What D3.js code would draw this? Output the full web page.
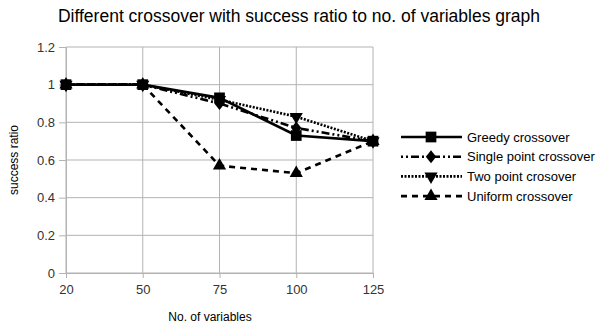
<!DOCTYPE html>
<html><head><meta charset="utf-8">
<script src="https://cdn.jsdelivr.net/npm/d3@7"></script>
<style>body{margin:0;background:#fff}text{font-family:"Liberation Sans",Arial,sans-serif}</style>
</head><body>
<svg id="c" width="603" height="326"></svg>
<script>
const categories = ["20","50","75","100","125"];
const greedy = [1, 1, 0.93, 0.73, 0.70];
const singlePoint = [1, 1, 0.90, 0.77, 0.70];
const twoPoint = [1, 1, 0.92, 0.83, 0.70];
const uniform = [1, 1, 0.57, 0.53, 0.70];
const seriesNames = ["Greedy crossover","Single point crossover","Two point crosover","Uniform crossover"];
const yTicks = [0,0.2,0.4,0.6,0.8,1,1.2];

const svg = d3.select("#c");
const L=66,R=373,T=47,B=273;
const x = d3.scalePoint().domain(categories).range([L,R]);
const y = d3.scaleLinear().domain([0,1.2]).range([B,T]);

svg.append("g").selectAll("line").data(yTicks).join("line")
 .attr("x1",L).attr("x2",R).attr("y1",d=>y(d)).attr("y2",d=>y(d))
 .attr("stroke","#b3b3b3").attr("stroke-width",1);
svg.append("g").selectAll("line").data(categories).join("line")
 .attr("x1",d=>x(d)).attr("x2",d=>x(d)).attr("y1",T).attr("y2",B)
 .attr("stroke","#b3b3b3").attr("stroke-width",1);

const ya = svg.append("g").attr("transform",`translate(${L},0)`)
 .call(d3.axisLeft(y).tickValues(yTicks).tickSize(7).tickPadding(4).tickFormat(d=>String(d)));
const xa = svg.append("g").attr("transform",`translate(0,${B})`)
 .call(d3.axisBottom(x).tickSize(5).tickPadding(7));
[ya,xa].forEach(a=>{a.select(".domain").attr("stroke","#b3b3b3");
 a.selectAll(".tick line").attr("stroke","#b3b3b3");
 a.selectAll("text").attr("font-size",13).attr("fill","#333").attr("font-family","Liberation Sans, Arial, sans-serif");});

const series = [
 {name:seriesNames[0],vals:greedy,dash:null,marker:"square"},
 {name:seriesNames[1],vals:singlePoint,dash:"2,3,2,3,8,3",marker:"diamond"},
 {name:seriesNames[2],vals:twoPoint,dash:"2,1.5",marker:"tridown"},
 {name:seriesNames[3],vals:uniform,dash:"6,5",marker:"triangle"}
];
const sym = {square:d3.symbolSquare,diamond:d3.symbolDiamond,triangle:d3.symbolTriangle,tridown:d3.symbolTriangle};
function marker(g,type,cx,cy){
 const size = type==="square"?115:type==="diamond"?60:75;
 g.append("path").attr("d",d3.symbol().type(sym[type]).size(size)())
  .attr("transform",`translate(${cx},${cy})${type==="tridown"?" rotate(180)":""}${type==="diamond"?" scale(1.25,0.9)":""}`)
  .attr("fill","#000");
}
const line = d3.line().x((d,i)=>x(categories[i])).y(d=>y(d));
[3,2,1,0].forEach(k=>{
 const s=series[k];
 svg.append("path").datum(s.vals).attr("d",line).attr("fill","none")
  .attr("stroke","#000").attr("stroke-width",2.6).attr("stroke-dasharray",s.dash);
 const g=svg.append("g");
 s.vals.forEach((v,i)=>marker(g,s.marker,x(categories[i]),y(v)));
});

series.forEach((s,i)=>{
 const ly=137+i*19.7;
 svg.append("line").attr("x1",401).attr("x2",462).attr("y1",ly).attr("y2",ly)
  .attr("stroke","#000").attr("stroke-width",2.6).attr("stroke-dasharray",s.dash);
 marker(svg.append("g"),s.marker,431,ly);
 svg.append("text").attr("x",467).attr("y",ly+4.5).attr("font-size",13).attr("fill","#000").text(s.name);
});

svg.append("text").attr("x",299).attr("y",22).attr("text-anchor","middle").attr("font-size",17.5).attr("fill","#000")
 .text("Different crossover with success ratio to no. of variables graph");
svg.append("text").attr("x",210).attr("y",321).attr("text-anchor","middle").attr("font-size",12).attr("fill","#000").text("No. of variables");
svg.append("text").attr("transform","translate(18,160) rotate(-90)").attr("text-anchor","middle").attr("font-size",12).attr("fill","#000").text("success ratio");
</script>
</body></html>
